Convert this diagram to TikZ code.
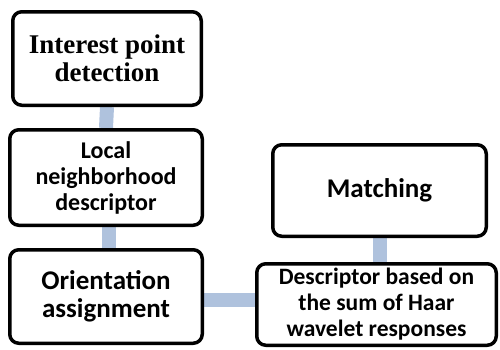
\documentclass[tikz,border=0pt]{standalone}
\usepackage{fontspec}
\setmainfont{Liberation Serif}
\newfontfamily\calfont{Carlito}
\definecolor{connblue}{HTML}{AFC2DD}
\pgfdeclarelayer{background}
\pgfsetlayers{background,main}
\begin{document}
\begin{tikzpicture}[x=1pt,y=-1pt,
  box/.style={draw=black, line width=3.5pt, rounded corners=9pt, fill=white,
    align=center, inner sep=0pt},
  conn/.style={draw=connblue, line width=14pt}]
\useasboundingbox (0,0) rectangle (500,349);
\node[box, minimum width=188.5pt, minimum height=93.5pt,
  font=\fontsize{27}{28}\selectfont\bfseries] (b1) at (107,58.5) {Interest point\\detection};
\node[box, minimum width=192.5pt, minimum height=95.5pt,
  font=\calfont\fontsize{24}{26}\selectfont\bfseries] (b2) at (106,177.5) {Local\\neighborhood\\descriptor};
\node[box, minimum width=192.5pt, minimum height=93.5pt,
  font=\calfont\fontsize{27}{28}\selectfont\bfseries] (b3) at (106,296.5) {Orientation\\assignment};
\node[box, minimum width=213.5pt, minimum height=91.5pt,
  font=\calfont\fontsize{27}{28}\selectfont\bfseries] (b4) at (379.5,190.5) {Matching};
\node[box, minimum width=239.5pt, minimum height=81.5pt,
  font=\calfont\fontsize{23.5}{26}\selectfont\bfseries] (b5) at (376.5,304.5) {Descriptor based on\\the sum of Haar\\wavelet responses};
\begin{pgfonlayer}{background}
\draw[conn] (b1.south) -- (b2.north);
\draw[conn] ([xshift=3pt]b2.south) -- ([xshift=3pt]b3.north);
\draw[conn] ([yshift=-3.5pt]b3.east) -- ([yshift=-3.5pt]b3.east -| b5.west);
\draw[conn] (b4.south) -- (b4.south |- b5.north);
\end{pgfonlayer}
\end{tikzpicture}
\end{document}
